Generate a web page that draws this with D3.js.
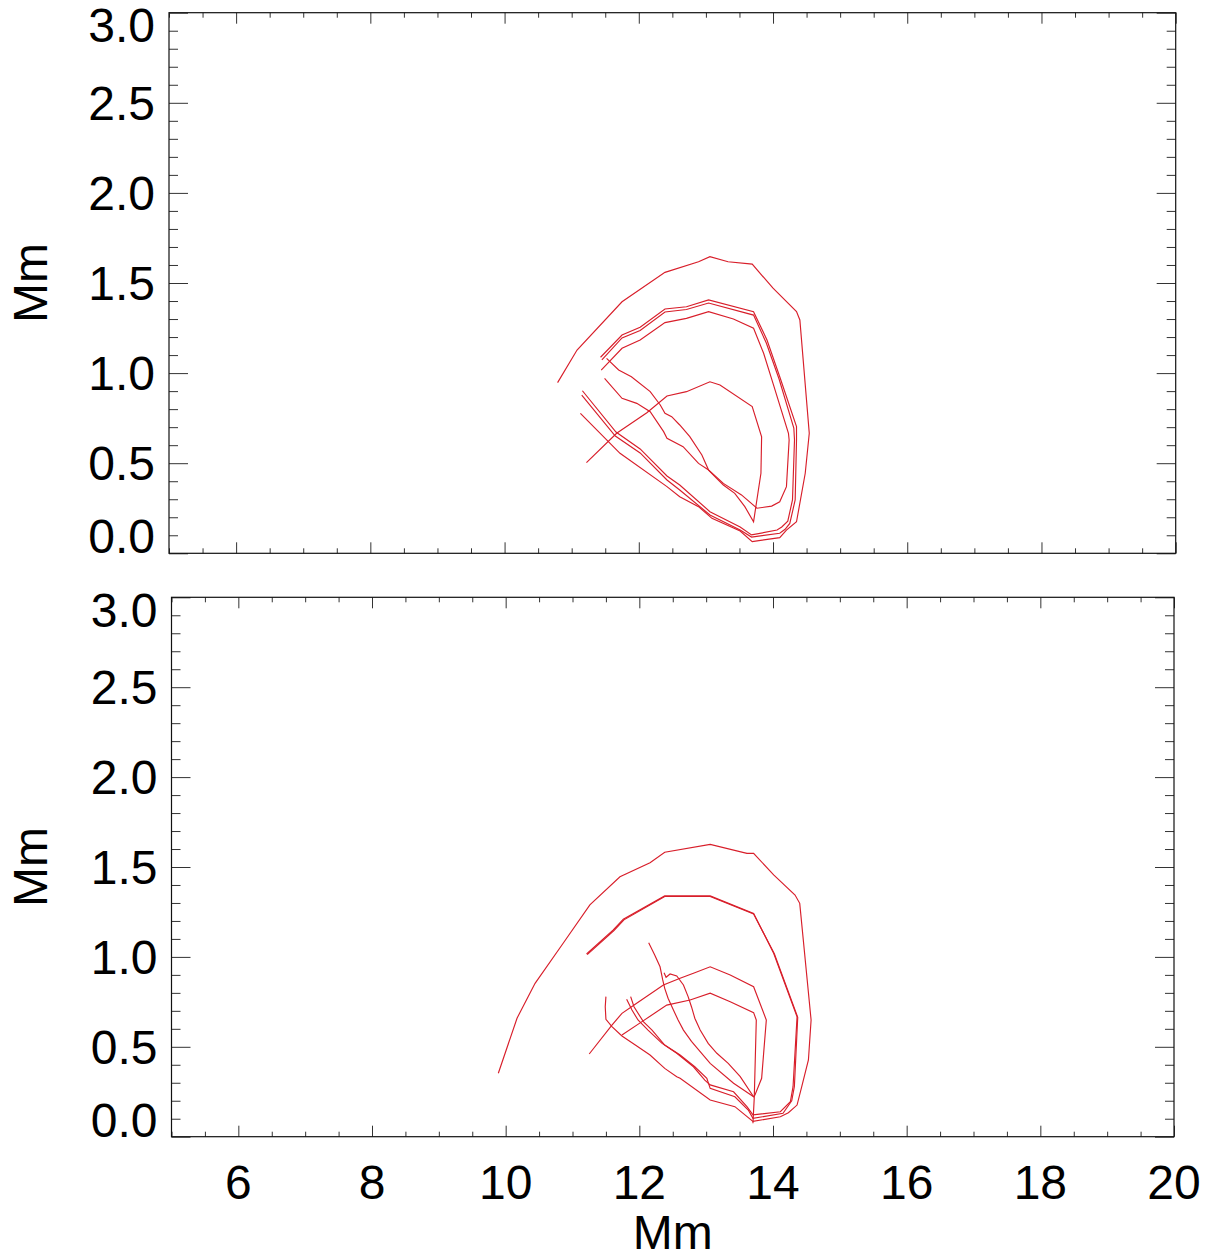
<!DOCTYPE html>
<html>
<head>
<meta charset="utf-8">
<script src="https://cdn.jsdelivr.net/npm/d3@7"></script>
<style>
  body { margin: 0; background: #fff; }
  svg { display: block; }
  text { font-family: "Liberation Sans", Arial, Helvetica, sans-serif; fill: #000; }
</style>
</head>
<body>
<script>
// tick labels
const xTickLabels = [6, 8, 10, 12, 14, 16, 18, 20];
const yTickLabels = [0.0, 0.5, 1.0, 1.5, 2.0, 2.5, 3.0];

// top panel curves, [Mm, Mm]
const topOuter = [[10.79,0.947],[11.08,1.128],[11.75,1.396],[12.39,1.559],[12.89,1.618],[13.06,1.646],[13.33,1.618],[13.69,1.605],[14.00,1.471],[14.35,1.341],[14.40,1.295],[14.54,0.666],[14.48,0.444],[14.35,0.175],[14.20,0.129],[14.10,0.087],[13.69,0.065],[13.51,0.124],[13.09,0.194],[12.89,0.259],[12.61,0.314],[12.42,0.370],[11.72,0.555],[11.13,0.777]];
const topLoopB = [[11.43,1.088],[11.75,1.211],[12.02,1.254],[12.39,1.356],[12.71,1.368],[13.04,1.406],[13.71,1.341],[13.91,1.184],[14.10,0.980],[14.35,0.703],[14.35,0.629],[14.33,0.296],[14.25,0.166],[14.18,0.133],[14.10,0.111],[13.68,0.090],[13.51,0.129],[13.06,0.213],[12.61,0.351],[12.42,0.407],[12.02,0.557],[11.65,0.651],[11.15,0.878]];
const topLoopC = [[11.45,1.073],[11.75,1.195],[12.02,1.236],[12.39,1.339],[12.71,1.353],[13.04,1.389],[13.71,1.322],[13.90,1.167],[14.09,0.967],[14.31,0.695],[14.32,0.629],[14.29,0.296],[14.22,0.178],[14.13,0.146],[14.06,0.129],[13.68,0.102],[13.51,0.146],[13.06,0.231],[12.61,0.379],[12.42,0.429],[12.02,0.579],[11.66,0.673],[11.16,0.902]];
const topLoopD = [[11.44,1.017],[11.75,1.138],[12.02,1.184],[12.39,1.280],[12.71,1.304],[13.04,1.341],[13.41,1.300],[13.71,1.249],[13.86,1.110],[14.00,0.943],[14.23,0.666],[14.24,0.629],[14.20,0.370],[14.10,0.286],[13.98,0.262],[13.76,0.250],[13.53,0.324],[13.26,0.388],[13.04,0.462],[12.89,0.499],[12.66,0.592],[12.42,0.638],[12.37,0.675],[12.17,0.786],[11.97,0.832],[11.75,0.860],[11.49,0.971]];
const topLoopE = [[11.22,0.503],[11.67,0.666],[12.12,0.780],[12.42,0.873],[12.71,0.897],[13.06,0.952],[13.21,0.934],[13.69,0.814],[13.83,0.647],[13.82,0.444],[13.71,0.175],[13.58,0.259],[13.43,0.333],[13.26,0.379],[13.16,0.416],[13.04,0.462],[12.94,0.546],[12.76,0.647],[12.61,0.712],[12.49,0.758],[12.39,0.777],[12.32,0.823],[12.17,0.897],[11.89,0.980],[11.70,1.017],[11.52,1.082]];

// bottom panel curves
const botOuter = [[9.89,0.353],[10.17,0.659],[10.44,0.853],[10.86,1.076],[11.26,1.289],[11.71,1.446],[12.16,1.524],[12.38,1.582],[13.06,1.626],[13.61,1.576],[13.71,1.576],[14.01,1.456],[14.33,1.344],[14.40,1.298],[14.57,0.649],[14.53,0.427],[14.43,0.278],[14.36,0.176],[14.23,0.133],[14.11,0.111],[13.70,0.085],[13.43,0.167],[13.06,0.204],[12.61,0.325],[12.56,0.334],[12.38,0.380],[12.16,0.454],[11.94,0.510],[11.74,0.560],[11.59,0.612],[11.50,0.653],[11.49,0.723],[11.50,0.779]];
const botLoopB1 = [[11.21,1.016],[11.61,1.150],[11.76,1.209],[12.38,1.339],[13.06,1.339],[13.71,1.242],[14.01,1.020],[14.36,0.667],[14.30,0.278],[14.26,0.195],[14.11,0.139],[13.70,0.121],[13.61,0.167],[13.41,0.250],[13.06,0.288],[12.98,0.315],[12.81,0.389],[12.56,0.464],[12.34,0.519],[12.13,0.593],[11.98,0.649],[11.89,0.705],[11.81,0.764]];
const botLoopB2 = [[11.22,1.013],[11.62,1.147],[11.77,1.206],[12.38,1.336],[13.06,1.336],[13.71,1.239],[14.02,1.017],[14.37,0.664],[14.32,0.280],[14.28,0.200],[14.15,0.130],[13.70,0.102],[13.63,0.148],[13.43,0.222],[13.06,0.269],[13.01,0.325],[12.83,0.389],[12.61,0.454],[12.38,0.510],[12.19,0.593],[12.06,0.640],[11.92,0.723],[11.87,0.779]];
const botLoopF = [[11.25,0.460],[11.59,0.621],[11.74,0.686],[11.96,0.742],[12.36,0.844],[12.61,0.881],[12.81,0.909],[13.06,0.945],[13.36,0.899],[13.71,0.834],[13.90,0.649],[13.86,0.464],[13.83,0.325],[13.73,0.232],[13.71,0.222],[13.51,0.334],[13.33,0.408],[13.16,0.464],[13.03,0.519],[12.91,0.593],[12.83,0.659],[12.78,0.723],[12.73,0.779],[12.66,0.844],[12.56,0.894],[12.46,0.905],[12.40,0.887],[12.37,0.912]];
const botLoopG = [[11.74,0.566],[12.04,0.640],[12.41,0.732],[12.76,0.760],[13.06,0.798],[13.36,0.751],[13.71,0.690],[13.75,0.649],[13.72,0.220],[13.70,0.075]];
const botReturn4 = [[12.14,1.079],[12.23,1.011],[12.31,0.945],[12.35,0.872],[12.38,0.825],[12.43,0.770],[12.51,0.705],[12.58,0.649],[12.66,0.593],[12.78,0.530],[13.06,0.408],[13.41,0.297],[13.71,0.222]];

const width = 1211, height = 1260;
const fontSize = 48;

const panels = [
  { left: 169, right: 1175.7, top: 12.7, bottom: 553.3, xLabels: false,
    lines: [topOuter, topLoopB, topLoopC, topLoopD, topLoopE] },
  { left: 171.5, right: 1174, top: 597.3, bottom: 1136.7, xLabels: true,
    lines: [botOuter, botLoopB1, botLoopB2, botLoopF, botLoopG, botReturn4] }
];

const svg = d3.select("body").append("svg")
  .attr("width", width)
  .attr("height", height);

function drawPanel(p) {
  const x = d3.scaleLinear().domain([5, 20]).range([p.left, p.right]);
  const y = d3.scaleLinear().domain([0, 3]).range([p.bottom, p.top]);

  const xMinor = d3.range(5, 20.001, 0.5).filter(v => xTickLabels.indexOf(v) < 0);
  const yMinor = d3.range(0, 3.001, 0.1).map(v => +v.toFixed(1)).filter(v => yTickLabels.indexOf(v) < 0);

  const g = svg.append("g");

  function ticks(axis, tx, ty) {
    const a = g.append("g")
      .attr("transform", "translate(" + tx + "," + ty + ")")
      .call(axis);
    a.select(".domain").remove();
    a.selectAll("line").attr("stroke", "#333").attr("stroke-width", 1);
    a.selectAll("text").remove();
  }

  // x ticks, bottom and top, pointing inward
  ticks(d3.axisBottom(x).tickValues(xTickLabels).tickSize(-11), 0, p.bottom);
  ticks(d3.axisBottom(x).tickValues(xMinor).tickSize(-5), 0, p.bottom);
  ticks(d3.axisTop(x).tickValues(xTickLabels).tickSize(-11), 0, p.top);
  ticks(d3.axisTop(x).tickValues(xMinor).tickSize(-5), 0, p.top);
  // y ticks, left and right
  ticks(d3.axisLeft(y).tickValues(yTickLabels).tickSize(-19), p.left, 0);
  ticks(d3.axisLeft(y).tickValues(yMinor).tickSize(-9), p.left, 0);
  ticks(d3.axisRight(y).tickValues(yTickLabels).tickSize(-19), p.right, 0);
  ticks(d3.axisRight(y).tickValues(yMinor).tickSize(-9), p.right, 0);

  // frame
  g.append("rect")
    .attr("x", p.left).attr("y", p.top)
    .attr("width", p.right - p.left).attr("height", p.bottom - p.top)
    .attr("fill", "none").attr("stroke", "#111").attr("stroke-width", 1.2);

  // y labels (end labels kept inside the frame)
  g.selectAll(".ylab").data(yTickLabels).enter().append("text")
    .attr("class", "ylab")
    .attr("x", p.left - 14)
    .attr("y", d => d === 0 ? y(d) : d === 3 ? y(d) + 29.5 : y(d) + 0.36 * fontSize)
    .attr("text-anchor", "end")
    .style("font-size", fontSize + "px")
    .text(d => d3.format(".1f")(d));

  // y title
  g.append("text")
    .attr("transform", "translate(47," + ((p.top + p.bottom) / 2) + ") rotate(-90)")
    .attr("text-anchor", "middle")
    .style("font-size", "48px")
    .text("Mm");

  if (p.xLabels) {
    g.selectAll(".xlab").data(xTickLabels).enter().append("text")
      .attr("class", "xlab")
      .attr("x", d => x(d))
      .attr("y", 1199)
      .attr("text-anchor", "middle")
      .style("font-size", "48px")
      .text(d => d);

    g.append("text")
      .attr("x", (p.left + p.right) / 2)
      .attr("y", 1249)
      .attr("text-anchor", "middle")
      .style("font-size", "48px")
      .text("Mm");
  }

  const line = d3.line()
    .x(d => x(d[0]))
    .y(d => y(d[1]));

  g.selectAll(".curve").data(p.lines).enter().append("path")
    .attr("class", "curve")
    .attr("d", line)
    .attr("fill", "none")
    .attr("stroke", "#d81e2a")
    .attr("stroke-width", 1.15);
}

panels.forEach(drawPanel);
</script>
</body>
</html>
